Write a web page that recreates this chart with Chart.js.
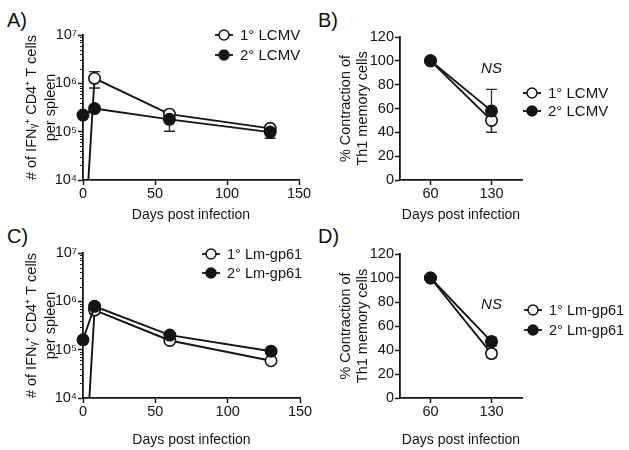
<!DOCTYPE html>
<html><head><meta charset="utf-8">
<script src="https://cdn.jsdelivr.net/npm/chart.js@4.4.1/dist/chart.umd.min.js"></script>
<style>
html,body{margin:0;padding:0;background:#fff;}
body{width:629px;height:450px;position:relative;overflow:hidden;font-family:"Liberation Sans",Arial,sans-serif;}
canvas{position:absolute;}
.lbl{position:absolute;font-size:20px;color:#111;line-height:1;}
</style></head><body>
<div class="lbl" style="left:7px;top:10px">A)</div>
<div class="lbl" style="left:318px;top:10px">B)</div>
<div class="lbl" style="left:7px;top:226px">C)</div>
<div class="lbl" style="left:318px;top:226px">D)</div>
<canvas id="cA" width="320" height="225" style="left:0;top:0"></canvas>
<canvas id="cB" width="309" height="225" style="left:320px;top:0"></canvas>
<canvas id="cC" width="320" height="225" style="left:0;top:225px"></canvas>
<canvas id="cD" width="309" height="225" style="left:320px;top:225px"></canvas>
<script>
// ---------- data ----------
const daysPostInfection = [0, 8, 60, 130];
const lcmvPrimary      = [150, 1.27e6, 2.3e5, 1.17e5];
const lcmvPrimaryErr   = [0, 4.7e5, 2.0e4, 1.5e4];
const lcmvSecondary    = [2.2e5, 3.0e5, 1.8e5, 9.8e4];
const lcmvSecondaryErr = [0, 1.5e4, 7.8e4, 2.5e4];
const lmPrimary        = [60, 6.6e5, 1.55e5, 5.9e4];
const lmPrimaryErr     = [0, 1.0e5, 1.0e4, 4.0e3];
const lmSecondary      = [1.6e5, 7.9e5, 2.0e5, 9.3e4];
const lmSecondaryErr   = [0, 1.4e5, 1.5e4, 8.0e3];

const contractionDays = ['60', '130'];
const lcmvContractionPrimary      = [100, 50];
const lcmvContractionPrimaryErr   = [0, 10];
const lcmvContractionSecondary    = [100, 58];
const lcmvContractionSecondaryErr = [0, 18];
const lmContractionPrimary        = [100, 37];
const lmContractionPrimaryErr     = [0, 3];
const lmContractionSecondary      = [100, 47];
const lmContractionSecondaryErr   = [0, 3.5];

const logTickValues = [1e4,2e4,3e4,4e4,5e4,6e4,7e4,8e4,9e4,
                       1e5,2e5,3e5,4e5,5e5,6e5,7e5,8e5,9e5,
                       1e6,2e6,3e6,4e6,5e6,6e6,7e6,8e6,9e6,1e7];
const dayTickStep = 50;
const percentTickStep = 20;

const lcmvLabels = ['1° LCMV', '2° LCMV'];
const lmLabels = ['1° Lm-gp61', '2° Lm-gp61'];
const countTitle = ['# of IFNᵧ⁺ CD4⁺ T cells', 'per spleen'];
const contractionTitle = ['% Contraction of', 'Th1 memory cells'];
const xTitle = 'Days post infection';

// ---------- styling ----------
const FONT = '"Liberation Sans", Arial, sans-serif';
const INK = '#141414';
Chart.defaults.font.family = FONT;
Chart.defaults.color = INK;

function isPow10(v){ const e = Math.log10(v); return Math.abs(e - Math.round(e)) < 1e-9; }
const SUP = {'0':'⁰','1':'¹','2':'²','3':'³','4':'⁴','5':'⁵','6':'⁶','7':'⁷','8':'⁸','9':'⁹'};
function pow10Label(v){ const e = Math.round(Math.log10(v)); return '10' + String(e).split('').map(c => SUP[c]).join(''); }

const errorBars = {
  id: 'errorBars',
  beforeDatasetsDraw(chart) {
    const {ctx} = chart; const y = chart.scales.y;
    ctx.save(); ctx.strokeStyle = '#2a2a2a'; ctx.lineWidth = 1.3;
    chart.data.datasets.forEach((ds, di) => {
      if (!ds.errors) return;
      const meta = chart.getDatasetMeta(di);
      ds.data.forEach((pt, i) => {
        const e = ds.errors[i]; if (!e) return;
        const v = typeof pt === 'object' ? pt.y : pt;
        const px = meta.data[i].x;
        const yt = y.getPixelForValue(v + e);
        const yb = y.getPixelForValue(Math.max(v - e, y.min));
        ctx.beginPath();
        ctx.moveTo(px, yt); ctx.lineTo(px, yb);
        ctx.moveTo(px - 5.5, yt); ctx.lineTo(px + 5.5, yt);
        ctx.moveTo(px - 5.5, yb); ctx.lineTo(px + 5.5, yb);
        ctx.stroke();
      });
    });
    ctx.restore();
  }
};

const minorTicks = {
  id: 'minorTicks',
  afterDraw(chart) {
    const y = chart.scales.y; if (y.type !== 'logarithmic') return;
    const ctx = chart.ctx; ctx.save(); ctx.strokeStyle = INK; ctx.lineWidth = 1;
    y.ticks.forEach(t => {
      if (isPow10(t.value)) return;
      const py = Math.round(y.getPixelForValue(t.value)) + 0.5;
      ctx.beginPath(); ctx.moveTo(y.right - 3, py); ctx.lineTo(y.right, py); ctx.stroke();
    });
    ctx.restore();
  }
};

const customLegend = {
  id: 'customLegend',
  afterDraw(chart, args, opts) {
    if (!opts || opts.x === undefined) return;
    const ctx = chart.ctx; ctx.save();
    chart.data.datasets.forEach((ds, i) => {
      const yy = opts.y + i * opts.dy; const x0 = opts.x;
      ctx.strokeStyle = INK; ctx.lineWidth = 1.8;
      ctx.beginPath(); ctx.moveTo(x0, yy); ctx.lineTo(x0 + 18, yy); ctx.stroke();
      ctx.lineWidth = 1.5;
      ctx.beginPath(); ctx.arc(x0 + 9, yy, 5, 0, Math.PI * 2);
      ctx.fillStyle = ds.pointBackgroundColor; ctx.fill(); ctx.stroke();
      ctx.fillStyle = INK; ctx.font = opts.fontSize + 'px ' + FONT;
      ctx.textAlign = 'left'; ctx.textBaseline = 'middle';
      ctx.fillText(ds.label, x0 + 25, yy + 1);
    });
    ctx.restore();
  }
};

const nsMark = {
  id: 'nsMark',
  afterDraw(chart, args, opts) {
    if (!opts || opts.value === undefined) return;
    const ctx = chart.ctx; ctx.save();
    ctx.font = 'italic 15px ' + FONT; ctx.fillStyle = INK;
    ctx.textAlign = 'center'; ctx.textBaseline = 'middle';
    ctx.fillText('NS', chart.scales.x.getPixelForValue(opts.index), chart.scales.y.getPixelForValue(opts.value));
    ctx.restore();
  }
};

function axisBase(extra) {
  return Object.assign({
    border: {display: true, color: INK, width: 1.8},
    grid: {drawOnChartArea: false, drawTicks: true, tickLength: 5, tickWidth: 1.5, tickColor: INK},
  }, extra);
}

function makeDataset(label, xs, ys, errs, filled, order, clip) {
  return {
    label,
    data: xs ? xs.map((d, i) => ({x: d, y: ys[i]})) : ys.slice(),
    errors: errs,
    borderColor: INK, borderWidth: 1.9,
    pointBackgroundColor: filled ? INK : '#ffffff',
    pointBorderColor: INK, pointBorderWidth: 1.6,
    pointRadius: 5.7, pointHoverRadius: 5.7,
    tension: 0, order, clip
  };
}

function countChart(id, labels, prim, primErr, sec, secErr, L, T, R, H, legend, titlePadTop) {
  return new Chart(document.getElementById(id), {
    type: 'line',
    data: {datasets: [
      makeDataset(labels[0], daysPostInfection, prim, primErr, false, 1, {left: 10, top: 10, right: 10, bottom: 0}),
      makeDataset(labels[1], daysPostInfection, sec, secErr, true, 0, false)
    ]},
    options: {
      responsive: false, maintainAspectRatio: false, animation: false,
      layout: {autoPadding: false, padding: {left: 0, top: T, right: R, bottom: 0}},
      plugins: {legend: {display: false}, tooltip: {enabled: false}, customLegend: legend},
      scales: {
        x: axisBase({type: 'linear', min: 0, max: 150,
          ticks: {stepSize: dayTickStep, font: {size: 14.5}, padding: 0, color: INK},
          title: {display: true, text: xTitle, font: {size: 14}, padding: {top: 0, bottom: 1}, color: INK},
          afterFit: s => { s.height = H; s.paddingLeft = 0; s.paddingRight = 0; }}),
        y: axisBase({type: 'logarithmic', min: 1e4, max: 1e7,
          grid: {drawOnChartArea: false, drawTicks: true, tickLength: 5, tickWidth: 1.5,
                 tickColor: c => (c.tick && isPow10(c.tick.value)) ? INK : 'rgba(0,0,0,0)'},
          afterBuildTicks: s => { s.ticks = logTickValues.map(v => ({value: v, major: isPow10(v)})); },
          ticks: {autoSkip: false, font: {size: 14.5}, padding: 1, color: INK,
                  callback: v => isPow10(v) ? pow10Label(v) : ''},
          title: {display: true, text: countTitle, font: {size: 14.5, lineHeight: 1.3}, padding: {top: titlePadTop, bottom: 0}, color: INK},
          afterFit: s => { s.width = L; s.paddingTop = 0; s.paddingBottom = 0; }})
      }
    },
    plugins: [errorBars, minorTicks, customLegend]
  });
}

function contractionChart(id, labels, prim, primErr, sec, secErr, L, T, R, H, legend, ns) {
  return new Chart(document.getElementById(id), {
    type: 'line',
    data: {labels: contractionDays, datasets: [
      makeDataset(labels[0], null, prim, primErr, false, 1, false),
      makeDataset(labels[1], null, sec, secErr, true, 0, false)
    ]},
    options: {
      responsive: false, maintainAspectRatio: false, animation: false,
      layout: {autoPadding: false, padding: {left: 0, top: T, right: R, bottom: 0}},
      plugins: {legend: {display: false}, tooltip: {enabled: false}, customLegend: legend, nsMark: ns},
      scales: {
        x: axisBase({type: 'category', offset: true,
          ticks: {font: {size: 14.5}, padding: 0, color: INK},
          title: {display: true, text: xTitle, font: {size: 14}, padding: {top: 0, bottom: 1}, color: INK},
          afterFit: s => { s.height = H; s.paddingLeft = 0; s.paddingRight = 0; }}),
        y: axisBase({type: 'linear', min: 0, max: 120,
          ticks: {stepSize: percentTickStep, font: {size: 14.5}, padding: 1, color: INK},
          title: {display: true, text: contractionTitle, font: {size: 14.5, lineHeight: 1.15}, padding: {top: 17.5, bottom: 0}, color: INK},
          afterFit: s => { s.width = L; s.paddingTop = 0; s.paddingBottom = 0; }})
      }
    },
    plugins: [errorBars, customLegend, nsMark]
  });
}

countChart('cA', lcmvLabels, lcmvPrimary, lcmvPrimaryErr, lcmvSecondary, lcmvSecondaryErr,
  83, 35, 21, 45, {x: 215, y: 35, dy: 20, fontSize: 15}, 23);
contractionChart('cB', lcmvLabels, lcmvContractionPrimary, lcmvContractionPrimaryErr,
  lcmvContractionSecondary, lcmvContractionSecondaryErr,
  80, 37, 107, 45, {x: 203, y: 93, dy: 18, fontSize: 15}, {index: 1, value: 93});
countChart('cC', lmLabels, lmPrimary, lmPrimaryErr, lmSecondary, lmSecondaryErr,
  83, 28, 20, 52, {x: 202, y: 29, dy: 19, fontSize: 14.5}, 23);
contractionChart('cD', lmLabels, lmContractionPrimary, lmContractionPrimaryErr,
  lmContractionSecondary, lmContractionSecondaryErr,
  80, 29, 107, 52, {x: 204, y: 85, dy: 20, fontSize: 14.5}, {index: 1, value: 78});
</script>
</body></html>
